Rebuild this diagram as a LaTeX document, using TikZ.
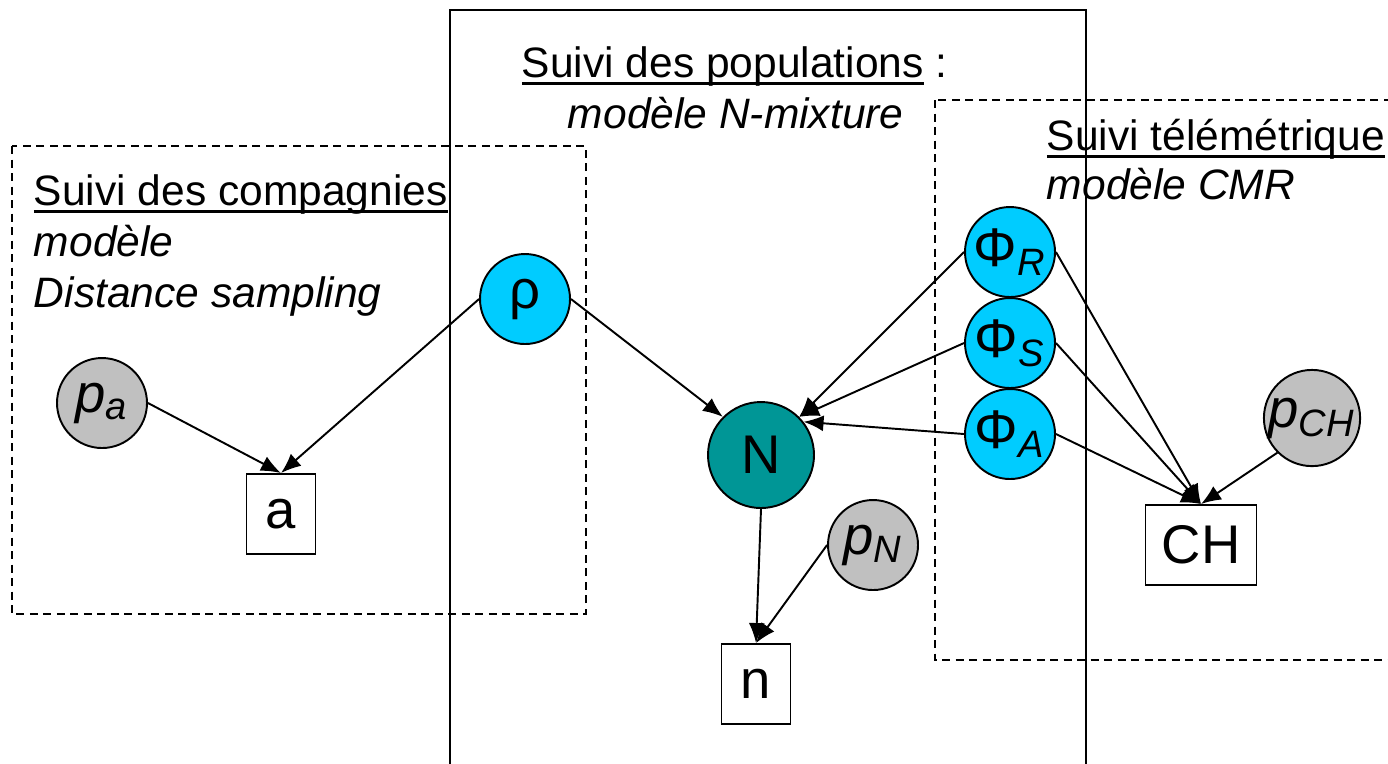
\documentclass[tikz,border=0pt]{standalone}
\usepackage{fontspec}
\setmainfont{Liberation Sans}
\usepackage{tikz}
\usetikzlibrary{arrows.meta}
\usepackage{xcolor}

\definecolor{ciel}{RGB}{0,204,255}
\definecolor{gris}{RGB}{192,192,192}
\definecolor{sarcelle}{RGB}{0,150,150}
\newcommand{\souligne}[1]{\setbox0\hbox{#1}\rlap{\rule[-0.75mm]{\wd0}{0.3mm}}#1}

\begin{document}
\begin{tikzpicture}[x=0.1mm, y=-0.1mm, line width=0.55pt,
  font=\fontsize{12.1}{14}\selectfont,
  >={Latex[length=2mm,width=1.6mm]},
  param/.style={circle, draw, fill=ciel, minimum size=9mm, inner sep=0pt, font=\fontsize{15.5}{18}\selectfont},
  detect/.style={circle, draw, fill=gris, minimum size=9mm, inner sep=0pt, font=\fontsize{15.5}{18}\selectfont},
  donnee/.style={rectangle, draw, fill=white, minimum width=6.9mm, minimum height=8mm, inner sep=0pt, font=\fontsize{15.5}{18}\selectfont},
  titre/.style={anchor=base west, inner sep=0pt},
  pointille/.style={dash pattern=on 0.8mm off 0.55mm}]

\useasboundingbox (0,0) rectangle (1388,763);

% Draw the three frames
\draw (450,10) rectangle (1086,790);
\draw[pointille] (12,146) rectangle (586,614);
\draw[pointille] (935,100) rectangle (1420,660);

% Titles of the frames
\node[titre] (comp1) at (33,205) {\souligne{Suivi des compagnies}};
\node[titre] (comp2) at (33,256) {\itshape modèle};
\node[titre] (comp3) at (33,307) {\itshape Distance sampling};
\node[titre] (pop1) at (521,77) {\souligne{Suivi des populations} :};
\node[titre] (pop2) at (567,128) {\itshape modèle N-mixture};
\node[titre] (tele1) at (1046,150) {\souligne{Suivi télémétrique}};
\node[titre] (tele2) at (1046,199) {\itshape modèle CMR};

% Nodes
\node[detect] (pa) at (102,403) {\textit{p}\textsubscript{\textit{a}}};
\node[donnee] (a) at (281,514) {a};
\node[param] (rho) at (525,299) {ρ};
\node[circle, draw, fill=sarcelle, minimum size=10.6mm, inner sep=0pt, font=\fontsize{15.5}{18}\selectfont] (N) at (761,455) {N};
\node[donnee] (n) at (756,684) {n};
\node[detect] (pN) at (873,545) {\textit{p}\textsubscript{\textit{N}}};
\node[param] (phiR) at (1010,252) {Φ\textsubscript{\textit{R}}};
\node[param] (phiS) at (1010,343) {Φ\textsubscript{\textit{S}}};
\node[param] (phiA) at (1010,434) {Φ\textsubscript{\textit{A}}};
\node[detect] (pCH) at (1312,418) {\textit{p}\textsubscript{\textit{CH}}};
\node[donnee, minimum width=11.1mm] (CH) at (1201,545) {CH};

% Arrows
\draw[->] (pa.east) -- (a.north);
\draw[->] (rho.west) -- (a.north);
\draw[->] (rho.east) -- (N.135);
\draw[->] (phiR.west) -- (N.45);
\draw[->] (phiS.west) -- (N.45);
\draw[->] (phiA.west) -- (N.38);
\draw[->] (N.south) -- (n.north);
\draw[->] (pN.west) -- (n.north);
\draw[->] (phiR.east) -- (CH.north);
\draw[->] (phiS.east) -- (CH.north);
\draw[->] (phiA.east) -- (CH.north);
\draw[->] (pCH.south west) -- (CH.north);

\end{tikzpicture}
\end{document}
